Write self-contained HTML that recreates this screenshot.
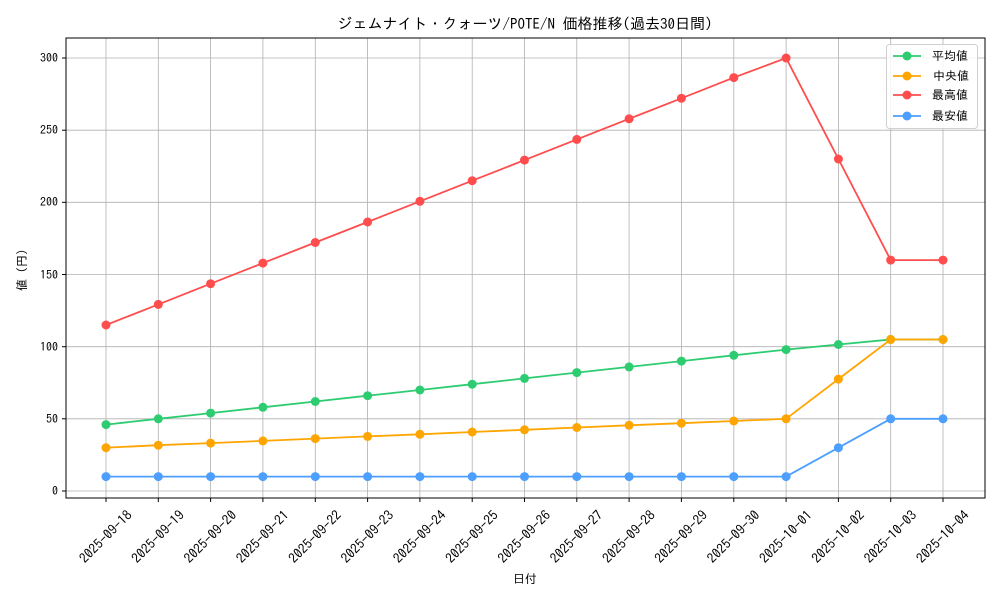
<!DOCTYPE html>
<html><head><meta charset="utf-8"><style>
body{margin:0;background:#fff}
svg{display:block;font-family:"IPAGothic","Liberation Sans","Noto Sans CJK JP",sans-serif}
</style></head><body>
<svg width="1000" height="600" viewBox="0 0 1000 600">
<rect width="1000" height="600" fill="#fff"/>
<g stroke="#b0b0b0" stroke-width="0.8">
<line x1="106" y1="38" x2="106" y2="498"/><line x1="158.3" y1="38" x2="158.3" y2="498"/><line x1="210.6" y1="38" x2="210.6" y2="498"/><line x1="262.9" y1="38" x2="262.9" y2="498"/><line x1="315.3" y1="38" x2="315.3" y2="498"/><line x1="367.6" y1="38" x2="367.6" y2="498"/><line x1="419.9" y1="38" x2="419.9" y2="498"/><line x1="472.2" y1="38" x2="472.2" y2="498"/><line x1="524.5" y1="38" x2="524.5" y2="498"/><line x1="576.8" y1="38" x2="576.8" y2="498"/><line x1="629.1" y1="38" x2="629.1" y2="498"/><line x1="681.4" y1="38" x2="681.4" y2="498"/><line x1="733.8" y1="38" x2="733.8" y2="498"/><line x1="786.1" y1="38" x2="786.1" y2="498"/><line x1="838.4" y1="38" x2="838.4" y2="498"/><line x1="890.7" y1="38" x2="890.7" y2="498"/><line x1="943" y1="38" x2="943" y2="498"/>
<line x1="66" y1="491" x2="985" y2="491"/><line x1="66" y1="418.8" x2="985" y2="418.8"/><line x1="66" y1="346.7" x2="985" y2="346.7"/><line x1="66" y1="274.5" x2="985" y2="274.5"/><line x1="66" y1="202.3" x2="985" y2="202.3"/><line x1="66" y1="130.2" x2="985" y2="130.2"/><line x1="66" y1="58" x2="985" y2="58"/>
</g>
<rect x="66" y="38" width="919" height="460" fill="none" stroke="#000" stroke-width="1"/>
<g stroke="#000" stroke-width="1">
<line x1="62" y1="491" x2="66" y2="491"/><line x1="62" y1="418.8" x2="66" y2="418.8"/><line x1="62" y1="346.7" x2="66" y2="346.7"/><line x1="62" y1="274.5" x2="66" y2="274.5"/><line x1="62" y1="202.3" x2="66" y2="202.3"/><line x1="62" y1="130.2" x2="66" y2="130.2"/><line x1="62" y1="58" x2="66" y2="58"/>
<line x1="106" y1="498" x2="106" y2="502"/><line x1="158.3" y1="498" x2="158.3" y2="502"/><line x1="210.6" y1="498" x2="210.6" y2="502"/><line x1="262.9" y1="498" x2="262.9" y2="502"/><line x1="315.3" y1="498" x2="315.3" y2="502"/><line x1="367.6" y1="498" x2="367.6" y2="502"/><line x1="419.9" y1="498" x2="419.9" y2="502"/><line x1="472.2" y1="498" x2="472.2" y2="502"/><line x1="524.5" y1="498" x2="524.5" y2="502"/><line x1="576.8" y1="498" x2="576.8" y2="502"/><line x1="629.1" y1="498" x2="629.1" y2="502"/><line x1="681.4" y1="498" x2="681.4" y2="502"/><line x1="733.8" y1="498" x2="733.8" y2="502"/><line x1="786.1" y1="498" x2="786.1" y2="502"/><line x1="838.4" y1="498" x2="838.4" y2="502"/><line x1="890.7" y1="498" x2="890.7" y2="502"/><line x1="943" y1="498" x2="943" y2="502"/>
</g>
<g font-size="12" text-anchor="end" fill="#000">
<text x="58" y="495">0</text><text x="58" y="423">50</text><text x="58" y="351">100</text><text x="58" y="279">150</text><text x="58" y="206">200</text><text x="58" y="134">250</text><text x="58" y="62">300</text>
</g>
<g font-size="13.5" text-anchor="middle" fill="#000">
<text transform="translate(109,540) rotate(-45)">2025-09-18</text>
<text transform="translate(161.3,540) rotate(-45)">2025-09-19</text>
<text transform="translate(213.6,540) rotate(-45)">2025-09-20</text>
<text transform="translate(265.9,540) rotate(-45)">2025-09-21</text>
<text transform="translate(318.3,540) rotate(-45)">2025-09-22</text>
<text transform="translate(370.6,540) rotate(-45)">2025-09-23</text>
<text transform="translate(422.9,540) rotate(-45)">2025-09-24</text>
<text transform="translate(475.2,540) rotate(-45)">2025-09-25</text>
<text transform="translate(527.5,540) rotate(-45)">2025-09-26</text>
<text transform="translate(579.8,540) rotate(-45)">2025-09-27</text>
<text transform="translate(632.1,540) rotate(-45)">2025-09-28</text>
<text transform="translate(684.4,540) rotate(-45)">2025-09-29</text>
<text transform="translate(736.8,540) rotate(-45)">2025-09-30</text>
<text transform="translate(789.1,540) rotate(-45)">2025-10-01</text>
<text transform="translate(841.4,540) rotate(-45)">2025-10-02</text>
<text transform="translate(893.7,540) rotate(-45)">2025-10-03</text>
<text transform="translate(946,540) rotate(-45)">2025-10-04</text>
</g>
<text x="525" y="583" font-size="12" text-anchor="middle">日付</text>
<text transform="translate(26,270) rotate(-90)" font-size="12" text-anchor="middle">値 (円)</text>
<text x="525" y="29" font-size="15" text-anchor="middle">ジェムナイト・クォーツ/POTE/N 価格推移(過去30日間)</text>

<g fill="none" stroke-width="1.8">
<polyline stroke="#ff4d4d" points="106,325 158.3,304.4 210.6,283.7 262.9,263.1 315.3,242.5 367.6,222 419.9,201.3 472.2,180.7 524.5,160.1 576.8,139.4 629.1,118.8 681.4,98.3 733.8,77.6 786.1,58 838.4,159 890.7,260.1 943,260.1"/>
<polyline stroke="#2ecc71" points="106,424.6 158.3,418.8 210.6,413.1 262.9,407.3 315.3,401.5 367.6,395.7 419.9,390 472.2,384.2 524.5,378.4 576.8,372.6 629.1,366.9 681.4,361.1 733.8,355.3 786.1,349.6 838.4,344.5 890.7,339.5 943,339.5"/>
<polyline stroke="#ffa500" points="106,447.7 158.3,445.2 210.6,443.1 262.9,440.9 315.3,438.6 367.6,436.4 419.9,434.3 472.2,432 524.5,429.8 576.8,427.5 629.1,425.3 681.4,423.2 733.8,421 786.1,418.8 838.4,379.1 890.7,339.5 943,339.5"/>
<polyline stroke="#4d9fff" points="106,476.6 158.3,476.6 210.6,476.6 262.9,476.6 315.3,476.6 367.6,476.6 419.9,476.6 472.2,476.6 524.5,476.6 576.8,476.6 629.1,476.6 681.4,476.6 733.8,476.6 786.1,476.6 838.4,447.7 890.7,418.8 943,418.8"/>
</g>
<g fill="#2ecc71"><circle cx="106" cy="424.6" r="4.5"/><circle cx="158.3" cy="418.8" r="4.5"/><circle cx="210.6" cy="413.1" r="4.5"/><circle cx="262.9" cy="407.3" r="4.5"/><circle cx="315.3" cy="401.5" r="4.5"/><circle cx="367.6" cy="395.7" r="4.5"/><circle cx="419.9" cy="390" r="4.5"/><circle cx="472.2" cy="384.2" r="4.5"/><circle cx="524.5" cy="378.4" r="4.5"/><circle cx="576.8" cy="372.6" r="4.5"/><circle cx="629.1" cy="366.9" r="4.5"/><circle cx="681.4" cy="361.1" r="4.5"/><circle cx="733.8" cy="355.3" r="4.5"/><circle cx="786.1" cy="349.6" r="4.5"/><circle cx="838.4" cy="344.5" r="4.5"/><circle cx="890.7" cy="339.5" r="4.5"/><circle cx="943" cy="339.5" r="4.5"/></g>
<g fill="#ffa500"><circle cx="106" cy="447.7" r="4.5"/><circle cx="158.3" cy="445.2" r="4.5"/><circle cx="210.6" cy="443.1" r="4.5"/><circle cx="262.9" cy="440.9" r="4.5"/><circle cx="315.3" cy="438.6" r="4.5"/><circle cx="367.6" cy="436.4" r="4.5"/><circle cx="419.9" cy="434.3" r="4.5"/><circle cx="472.2" cy="432" r="4.5"/><circle cx="524.5" cy="429.8" r="4.5"/><circle cx="576.8" cy="427.5" r="4.5"/><circle cx="629.1" cy="425.3" r="4.5"/><circle cx="681.4" cy="423.2" r="4.5"/><circle cx="733.8" cy="421" r="4.5"/><circle cx="786.1" cy="418.8" r="4.5"/><circle cx="838.4" cy="379.1" r="4.5"/><circle cx="890.7" cy="339.5" r="4.5"/><circle cx="943" cy="339.5" r="4.5"/></g>
<g fill="#ff4d4d"><circle cx="106" cy="325" r="4.5"/><circle cx="158.3" cy="304.4" r="4.5"/><circle cx="210.6" cy="283.7" r="4.5"/><circle cx="262.9" cy="263.1" r="4.5"/><circle cx="315.3" cy="242.5" r="4.5"/><circle cx="367.6" cy="222" r="4.5"/><circle cx="419.9" cy="201.3" r="4.5"/><circle cx="472.2" cy="180.7" r="4.5"/><circle cx="524.5" cy="160.1" r="4.5"/><circle cx="576.8" cy="139.4" r="4.5"/><circle cx="629.1" cy="118.8" r="4.5"/><circle cx="681.4" cy="98.3" r="4.5"/><circle cx="733.8" cy="77.6" r="4.5"/><circle cx="786.1" cy="58" r="4.5"/><circle cx="838.4" cy="159" r="4.5"/><circle cx="890.7" cy="260.1" r="4.5"/><circle cx="943" cy="260.1" r="4.5"/></g>
<g fill="#4d9fff"><circle cx="106" cy="476.6" r="4.5"/><circle cx="158.3" cy="476.6" r="4.5"/><circle cx="210.6" cy="476.6" r="4.5"/><circle cx="262.9" cy="476.6" r="4.5"/><circle cx="315.3" cy="476.6" r="4.5"/><circle cx="367.6" cy="476.6" r="4.5"/><circle cx="419.9" cy="476.6" r="4.5"/><circle cx="472.2" cy="476.6" r="4.5"/><circle cx="524.5" cy="476.6" r="4.5"/><circle cx="576.8" cy="476.6" r="4.5"/><circle cx="629.1" cy="476.6" r="4.5"/><circle cx="681.4" cy="476.6" r="4.5"/><circle cx="733.8" cy="476.6" r="4.5"/><circle cx="786.1" cy="476.6" r="4.5"/><circle cx="838.4" cy="447.7" r="4.5"/><circle cx="890.7" cy="418.8" r="4.5"/><circle cx="943" cy="418.8" r="4.5"/></g>

<rect x="886.5" y="44.5" width="91" height="84" rx="3" fill="#fff" fill-opacity="0.85" stroke="#d0d0d0"/>
<g stroke-width="1.8">
<line x1="893" y1="56" x2="921" y2="56" stroke="#2ecc71"/><circle cx="907" cy="56" r="4.5" fill="#2ecc71"/>
<line x1="893" y1="76" x2="921" y2="76" stroke="#ffa500"/><circle cx="907" cy="76" r="4.5" fill="#ffa500"/>
<line x1="893" y1="95" x2="921" y2="95" stroke="#ff4d4d"/><circle cx="907" cy="95" r="4.5" fill="#ff4d4d"/>
<line x1="893" y1="116" x2="921" y2="116" stroke="#4d9fff"/><circle cx="907" cy="116" r="4.5" fill="#4d9fff"/>
</g>
<g font-size="12" fill="#000">
<text x="932" y="60">平均値</text><text x="933" y="80">中央値</text><text x="932" y="99">最高値</text><text x="932" y="120">最安値</text>
</g>
</svg>
</body></html>
